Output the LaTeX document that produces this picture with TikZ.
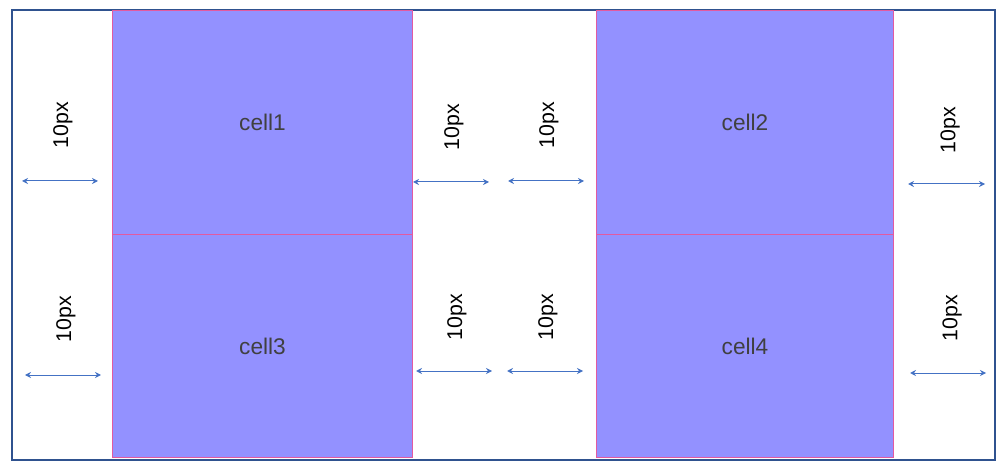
\documentclass[tikz,border=0pt]{standalone}
\usepackage{fontspec}
\setmainfont{Liberation Sans}
\usetikzlibrary{arrows.meta}
\definecolor{cellfill}{RGB}{147,145,255}
\definecolor{cellline}{RGB}{226,90,160}
\definecolor{framecol}{RGB}{47,82,143}
\definecolor{dimcol}{RGB}{68,114,196}
\definecolor{celltext}{RGB}{64,64,64}

\begin{document}
\begin{tikzpicture}[x=0.75pt,y=0.75pt,yscale=-1,xscale=1,
  cellbox/.style={draw=cellline,line width=0.75pt,fill=cellfill,anchor=north west,inner sep=0pt,minimum width=225pt,font=\fontsize{17}{20}\selectfont,text=celltext},
  dimarrow/.style={draw=dimcol,line width=0.75pt,{Stealth[length=4.5pt,width=4.5pt]}-{Stealth[length=4.5pt,width=4.5pt]}},
  dimlabel/.style={rotate=90,inner sep=0.75pt,font=\fontsize{16}{19}\selectfont}]
\useasboundingbox (0,0) rectangle (1005,473);

%Shape: Rectangle [id:frame]
\draw [color=framecol ,line width=1.1pt] (12,10) rectangle (995,460) ;

%Shape: Rectangle [id:cell1]
\node (cell1) [cellbox,minimum height=168pt] at (112,10) {cell1};
%Shape: Rectangle [id:cell3]
\node (cell3) [cellbox,minimum height=167.25pt] at (112,234) {cell3};
%Shape: Rectangle [id:cell2]
\node (cell2) [cellbox,minimum width=222.75pt,minimum height=168pt] at (596,10) {cell2};
%Shape: Rectangle [id:cell4]
\node (cell4) [cellbox,minimum width=222.75pt,minimum height=167.25pt] at (596,234) {cell4};

%Straight Lines [id:dim1]
\coordinate (d1a) at (22,181) ; \coordinate (d1b) at (98,181) ;
\draw [dimarrow] (d1a) -- (d1b) ;
%Straight Lines [id:dim2]
\coordinate (d2a) at (413,182) ; \coordinate (d2b) at (489,182) ;
\draw [dimarrow] (d2a) -- (d2b) ;
%Straight Lines [id:dim3]
\coordinate (d3a) at (508,181) ; \coordinate (d3b) at (584,181) ;
\draw [dimarrow] (d3a) -- (d3b) ;
%Straight Lines [id:dim4]
\coordinate (d4a) at (908,184) ; \coordinate (d4b) at (985,184) ;
\draw [dimarrow] (d4a) -- (d4b) ;
%Straight Lines [id:dim5]
\coordinate (d5a) at (25,375) ; \coordinate (d5b) at (101,375) ;
\draw [dimarrow] (d5a) -- (d5b) ;
%Straight Lines [id:dim6]
\coordinate (d6a) at (416,371) ; \coordinate (d6b) at (492,371) ;
\draw [dimarrow] (d6a) -- (d6b) ;
%Straight Lines [id:dim7]
\coordinate (d7a) at (507,371) ; \coordinate (d7b) at (583,371) ;
\draw [dimarrow] (d7a) -- (d7b) ;
%Straight Lines [id:dim8]
\coordinate (d8a) at (910,373) ; \coordinate (d8b) at (986,373) ;
\draw [dimarrow] (d8a) -- (d8b) ;

% Text Node
\node (gap1) [dimlabel] at (63,125) {10px};
% Text Node
\node (gap2) [dimlabel] at (454,127) {10px};
% Text Node
\node (gap3) [dimlabel] at (549,125) {10px};
% Text Node
\node (gap4) [dimlabel] at (950,130) {10px};
% Text Node
\node (gap5) [dimlabel] at (66,319) {10px};
% Text Node
\node (gap6) [dimlabel] at (457,317) {10px};
% Text Node
\node (gap7) [dimlabel] at (548,317) {10px};
% Text Node
\node (gap8) [dimlabel] at (952,318) {10px};

\end{tikzpicture}
\end{document}
